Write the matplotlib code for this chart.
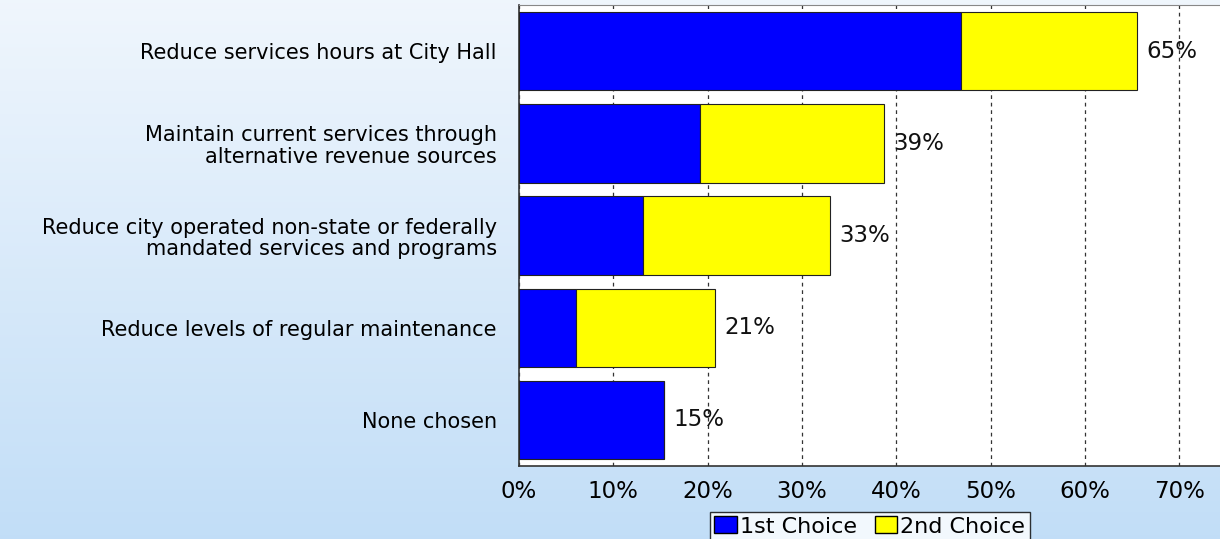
import numpy as np
import matplotlib
matplotlib.use("Agg")
import matplotlib.pyplot as plt
from matplotlib.patches import Patch

# Data
categories = [
    "Reduce services hours at City Hall",
    "Maintain current services through\nalternative revenue sources",
    "Reduce city operated non-state or federally\nmandated services and programs",
    "Reduce levels of regular maintenance",
    "None chosen",
]
first_choice = [46.8, 19.2, 13.1, 6.0, 15.4]
second_choice = [18.7, 19.5, 19.9, 14.8, 0.0]
total_labels = ["65%", "39%", "33%", "21%", "15%"]
xticks = [0, 10, 20, 30, 40, 50, 60, 70]

plt.rcParams['font.family'] = ['DejaVu Sans']

fig = plt.figure(figsize=(12.2, 5.39), dpi=100)

# background gradient
bg = fig.add_axes([0, 0, 1, 1], zorder=-10)
grad = np.linspace(0, 1, 256).reshape(-1, 1)
top = np.array([0.94, 0.965, 0.99])
bot = np.array([0.76, 0.87, 0.97])
img = top[None, None, :] * (1 - grad[..., None]) + bot[None, None, :] * grad[..., None]
bg.imshow(img, aspect='auto', extent=[0, 1, 0, 1])
bg.axis('off')

ax = fig.add_axes([0.4254, 0.1354, 0.5746, 0.8553])
ax.set_facecolor('white')

y = np.arange(len(categories))
ax.barh(y, first_choice, height=0.85, color='#0000ff', edgecolor='#222222', linewidth=0.8, zorder=3)
ax.barh(y, second_choice, left=first_choice, height=0.85, color='#ffff00', edgecolor='#222222', linewidth=0.8, zorder=3)

for i, lab in enumerate(total_labels):
    ax.text(first_choice[i] + second_choice[i] + 1.0, y[i], lab, va='center', ha='left', fontsize=16.5, color='#111111', zorder=4)

ax.set_ylim(len(categories) - 0.5, -0.5)
ax.set_xlim(0, 74.3)
ax.set_yticks(y)
ax.set_yticklabels(categories, fontsize=15, ha='right', multialignment='right', linespacing=1.1)
ax.tick_params(axis='y', length=0, pad=16)
ax.set_xticks(xticks)
ax.set_xticklabels([f"{t}%" for t in xticks], fontsize=16.5)
ax.tick_params(axis='x', length=0, pad=10)
ax.grid(axis='x', color='#333333', linestyle=(0, (3, 3)), linewidth=0.9, zorder=1)

for s in ['left', 'bottom']:
    ax.spines[s].set_color('#333333')
    ax.spines[s].set_linewidth(1.2)
ax.spines['top'].set_color('#888888')
ax.spines['right'].set_visible(False)

handles = [Patch(facecolor='#0000ff', edgecolor='black', label='1st Choice'),
           Patch(facecolor='#ffff00', edgecolor='black', label='2nd Choice')]
leg = fig.legend(handles=handles, loc='upper center', bbox_to_anchor=(0.713, 0.05), ncol=2,
                 fontsize=16, frameon=True, fancybox=False, edgecolor='black',
                 handlelength=1.0, handleheight=0.8, handletextpad=0.15, columnspacing=0.8,
                 borderpad=0.2, borderaxespad=0)
leg.get_frame().set_linewidth(1.0)

fig.savefig('out.png', dpi=100)
